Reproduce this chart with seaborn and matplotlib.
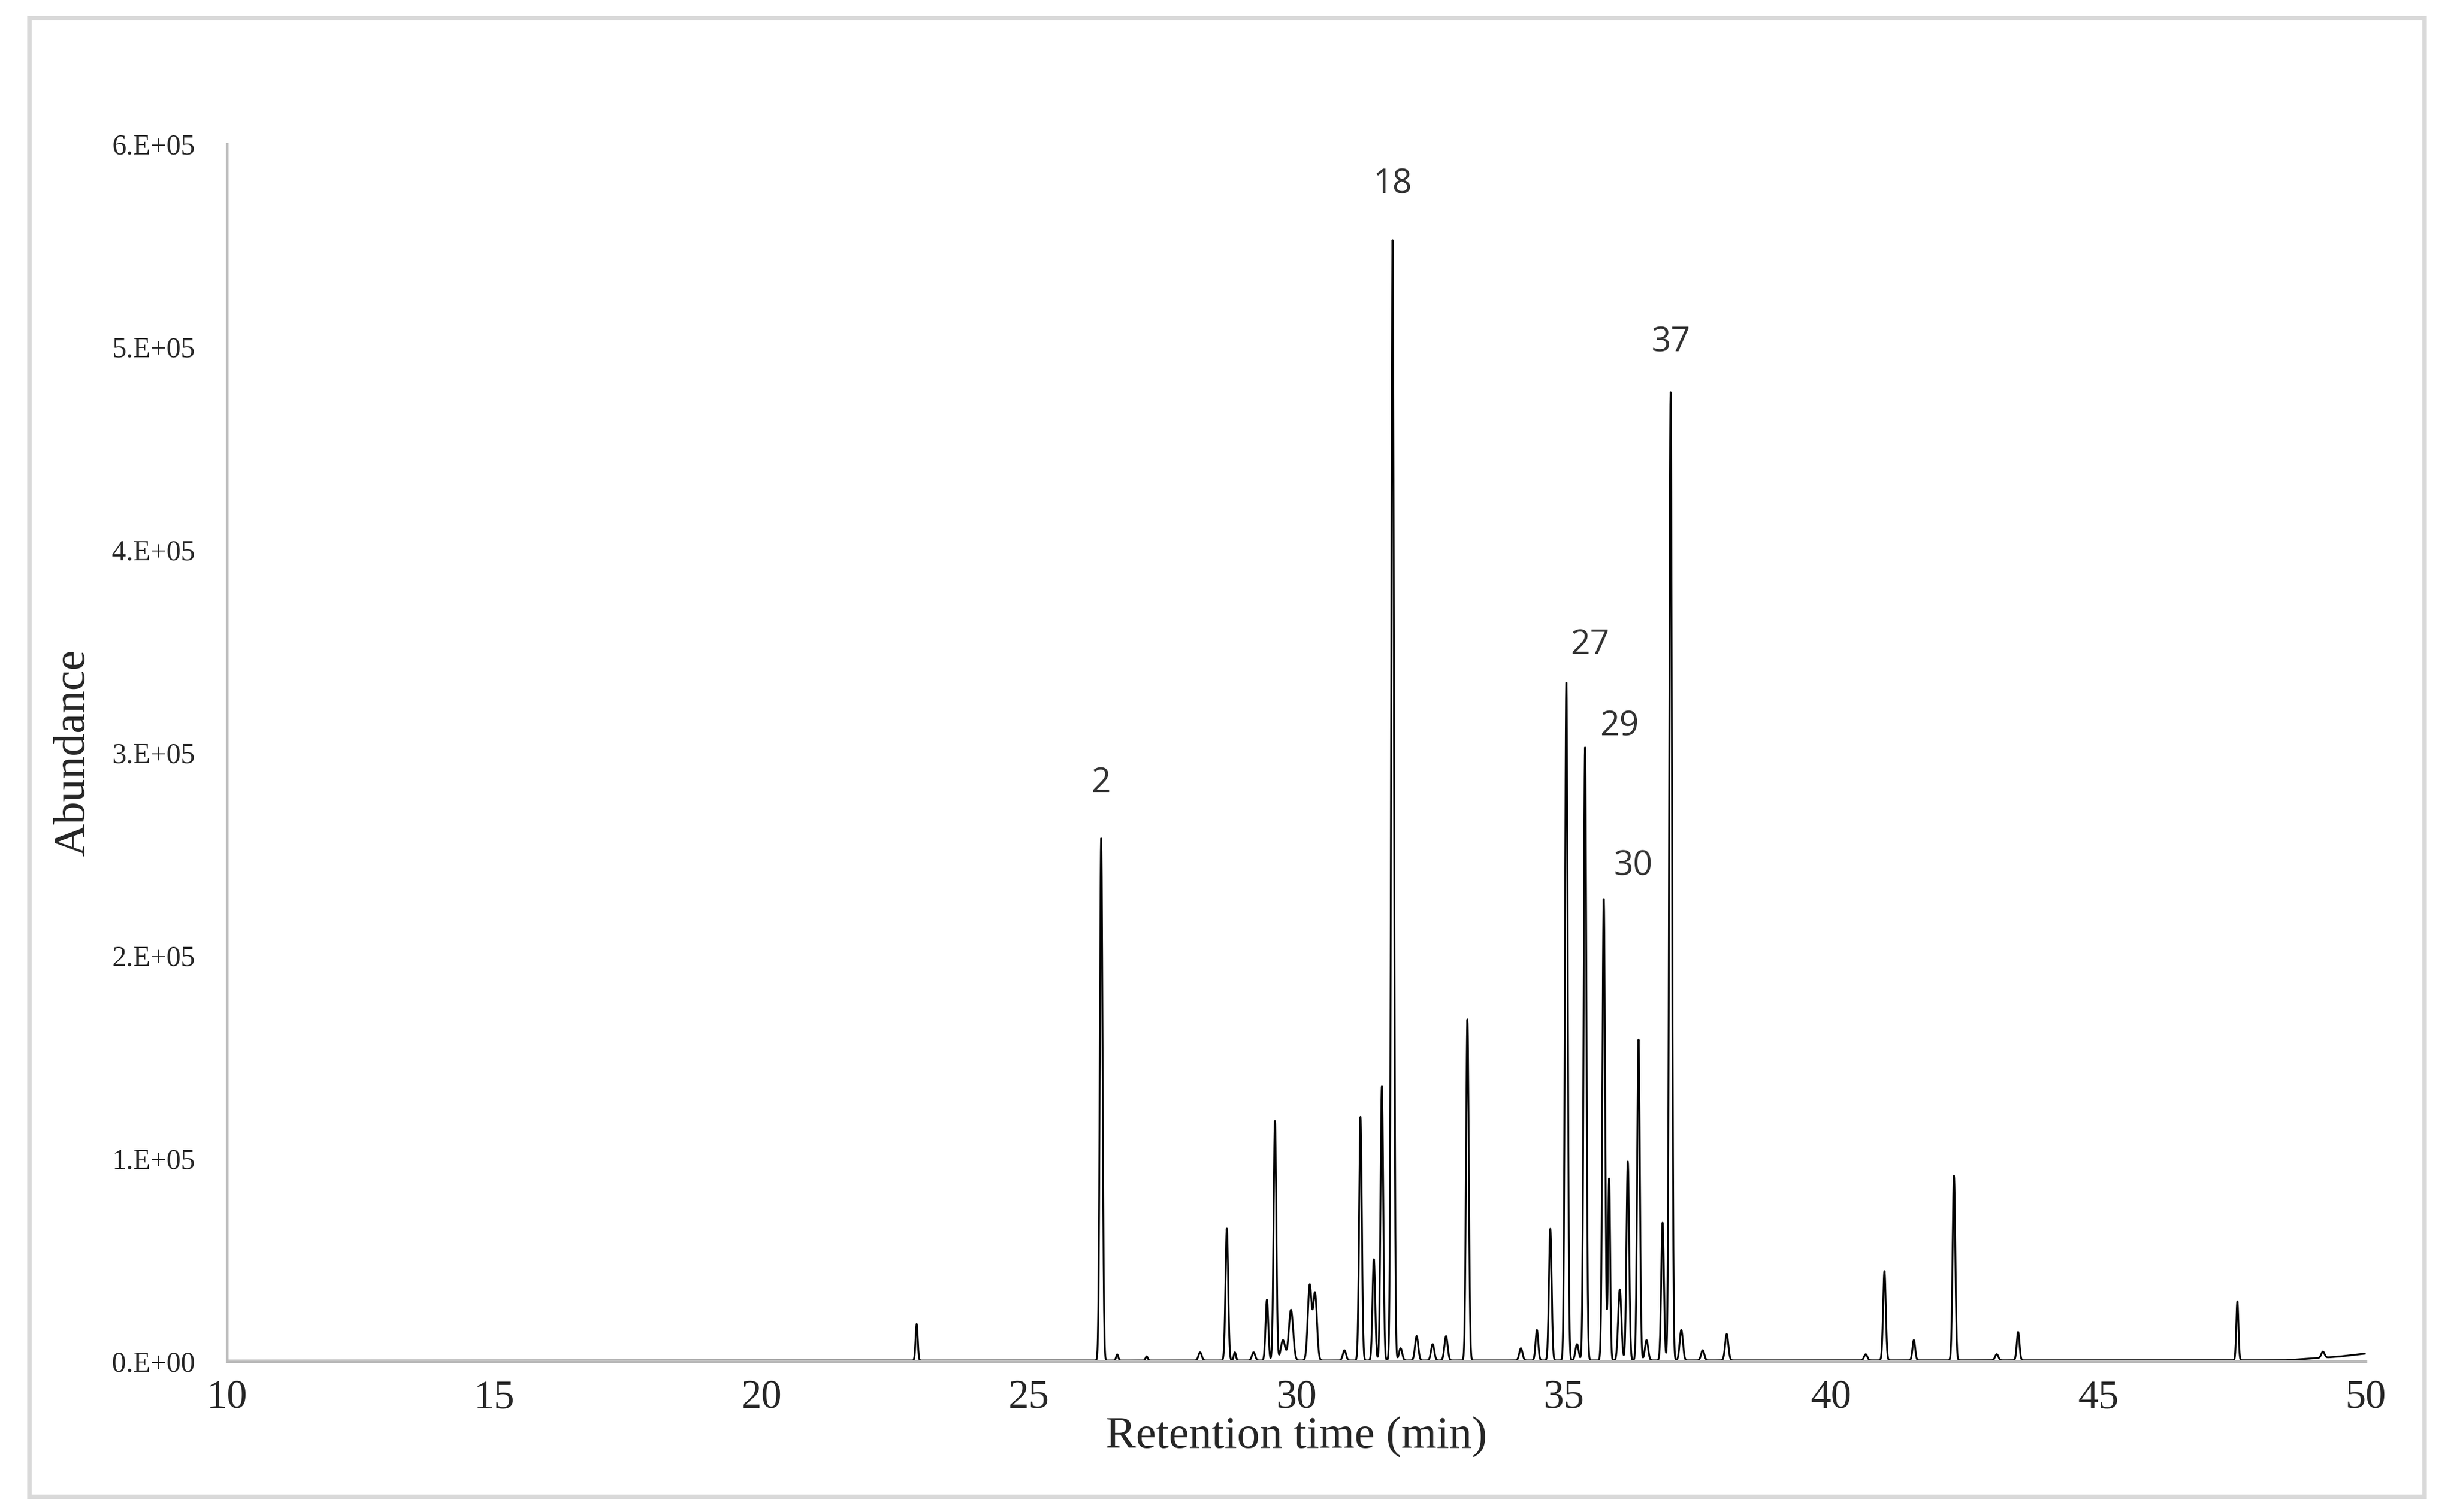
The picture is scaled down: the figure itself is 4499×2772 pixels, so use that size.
import numpy as np
import pandas as pd
import matplotlib
matplotlib.use("Agg")
import matplotlib.pyplot as plt
import seaborn as sns
from matplotlib.patches import Rectangle

# peak table
peak_time = [22.9, 26.35, 26.65, 27.2, 28.2, 28.7, 28.85, 29.2, 29.45, 29.6, 29.75, 29.9,
             30.25, 30.35, 30.9, 31.2, 31.45, 31.6, 31.8, 31.95, 32.25, 32.55, 32.8,
             33.2, 34.2, 34.5, 34.75, 35.05, 35.25, 35.4, 35.75, 35.85, 36.05, 36.2,
             36.4, 36.55, 36.85, 37.0, 37.2, 37.6, 38.05, 40.65, 41.0, 41.55, 42.3,
             43.1, 43.5, 47.6, 49.2]
peak_height = [18e3, 258e3, 3e3, 2e3, 4e3, 65e3, 4e3, 4e3, 30e3, 118e3, 10e3, 25e3,
               37e3, 33e3, 5e3, 120e3, 50e3, 135e3, 552e3, 6e3, 12e3, 8e3, 12e3,
               168e3, 6e3, 15e3, 65e3, 335e3, 8e3, 302e3, 228e3, 90e3, 35e3, 98e3,
               158e3, 10e3, 68e3, 477e3, 15e3, 5e3, 13e3, 3e3, 44e3, 10e3, 91e3,
               3e3, 14e3, 29e3, 3e3]
peak_width = [0.02, 0.025, 0.02, 0.02, 0.03, 0.025, 0.02, 0.03, 0.025, 0.025, 0.04, 0.04,
              0.035, 0.035, 0.03, 0.025, 0.025, 0.025, 0.025, 0.03, 0.03, 0.03, 0.03,
              0.025, 0.03, 0.025, 0.025, 0.025, 0.03, 0.025, 0.025, 0.02, 0.03, 0.025,
              0.025, 0.03, 0.025, 0.025, 0.03, 0.03, 0.03, 0.03, 0.025, 0.025, 0.025,
              0.03, 0.025, 0.02, 0.03]
base_time = [10, 48.5, 49.5, 50]
base_level = [500, 700, 2500, 4000]

label_text = ["2", "18", "27", "29", "30", "37"]
label_x = [26.35, 31.8, 35.5, 36.05, 36.3, 37.0]
label_y = [285e3, 580e3, 353e3, 313e3, 244e3, 502e3]

t = np.arange(10, 50.0001, 0.004)
signal = np.interp(t, base_time, base_level)
for tc, h, w in zip(peak_time, peak_height, peak_width):
    signal = signal + h * np.exp(-0.5 * ((t - tc) / w) ** 2)
df = pd.DataFrame({"time": t, "abundance": signal})

sns.set_style("white")
fig = plt.figure(figsize=(4499 / 300, 2772 / 300), dpi=300)
ax = fig.add_axes([0.0925, 0.0994, 0.8715, 0.8054])
sns.lineplot(data=df, x="time", y="abundance", color="black", lw=0.8, ax=ax)

ax.set_xlim(10, 50)
ax.set_ylim(0, 6e5)
ax.set_xticks(range(10, 51, 5))
ax.set_yticks(np.arange(0, 6.01e5, 1e5))
ax.set_yticklabels([f"{i}.E+05" if i else "0.E+00" for i in range(7)],
                   family="Liberation Serif", fontsize=12.5)
ax.set_xticklabels([str(v) for v in range(10, 51, 5)],
                   family="Liberation Serif", fontsize=18)
ax.tick_params(axis="x", pad=8, length=0)
ax.tick_params(axis="y", pad=14, length=0)
for s in ["top", "right"]:
    ax.spines[s].set_visible(False)
for s in ["left", "bottom"]:
    ax.spines[s].set_color("#bbbbbb")
    ax.spines[s].set_linewidth(1.2)
ax.set_xlabel("Retention time (min)", family="Liberation Serif", fontsize=20, labelpad=0)
ax.set_ylabel("Abundance", family="Liberation Serif", fontsize=20, labelpad=8)

for txt, x, y in zip(label_text, label_x, label_y):
    ax.text(x, y, txt, ha="center", va="center", fontsize=15, color="#333333",
            family="Open Sans")

fig.patches.append(Rectangle((0.012, 0.01), 0.976, 0.978, transform=fig.transFigure,
                             fill=False, edgecolor="#d9d9d9", lw=2))
fig.savefig("out.png", dpi=300)
